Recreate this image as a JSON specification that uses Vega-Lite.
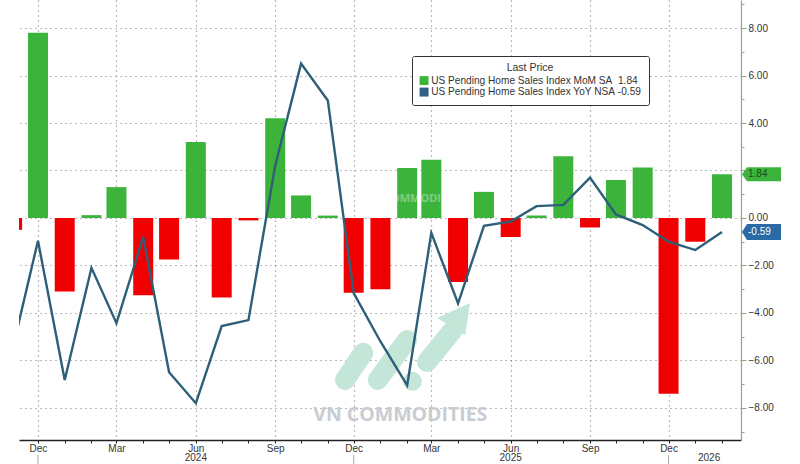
{
"$schema":"https://vega.github.io/schema/vega-lite/v6.json",
"width":722,"height":440,"autosize":"none",
"padding":{"left":19,"top":0,"right":59,"bottom":24},
"background":"white",
"config":{"view":{"stroke":null},"font":"Liberation Sans"},
"datasets":{
"mom":[
{"date":"2023-11-01","value":-0.5,"series":"Negative"},
{"date":"2023-12-01","value":7.8,"series":"MoM"},
{"date":"2024-01-01","value":-3.1,"series":"Negative"},
{"date":"2024-02-01","value":0.12,"series":"MoM"},
{"date":"2024-03-01","value":1.3,"series":"MoM"},
{"date":"2024-04-01","value":-3.25,"series":"Negative"},
{"date":"2024-05-01","value":-1.75,"series":"Negative"},
{"date":"2024-06-01","value":3.2,"series":"MoM"},
{"date":"2024-07-01","value":-3.35,"series":"Negative"},
{"date":"2024-08-01","value":-0.1,"series":"Negative"},
{"date":"2024-09-01","value":4.2,"series":"MoM"},
{"date":"2024-10-01","value":0.95,"series":"MoM"},
{"date":"2024-11-01","value":0.1,"series":"MoM"},
{"date":"2024-12-01","value":-3.15,"series":"Negative"},
{"date":"2025-01-01","value":-3.0,"series":"Negative"},
{"date":"2025-02-01","value":2.1,"series":"MoM"},
{"date":"2025-03-01","value":2.45,"series":"MoM"},
{"date":"2025-04-01","value":-2.7,"series":"Negative"},
{"date":"2025-05-01","value":1.1,"series":"MoM"},
{"date":"2025-06-01","value":-0.8,"series":"Negative"},
{"date":"2025-07-01","value":0.1,"series":"MoM"},
{"date":"2025-08-01","value":2.6,"series":"MoM"},
{"date":"2025-09-01","value":-0.4,"series":"Negative"},
{"date":"2025-10-01","value":1.6,"series":"MoM"},
{"date":"2025-11-01","value":2.13,"series":"MoM"},
{"date":"2025-12-01","value":-7.4,"series":"Negative"},
{"date":"2026-01-01","value":-1.0,"series":"Negative"},
{"date":"2026-02-01","value":1.84,"series":"MoM"}
],
"yoy":[
{"date":"2023-11-01","value":-5.6},
{"date":"2023-12-01","value":-0.96},
{"date":"2024-01-01","value":-6.82},
{"date":"2024-02-01","value":-2.1},
{"date":"2024-03-01","value":-4.43},
{"date":"2024-04-01","value":-0.8},
{"date":"2024-05-01","value":-6.5},
{"date":"2024-06-01","value":-7.8},
{"date":"2024-07-01","value":-4.55},
{"date":"2024-08-01","value":-4.3},
{"date":"2024-09-01","value":2.2},
{"date":"2024-10-01","value":6.5},
{"date":"2024-11-01","value":4.95},
{"date":"2024-12-01","value":-3.16},
{"date":"2025-01-01","value":-5.2},
{"date":"2025-02-01","value":-7.05},
{"date":"2025-03-01","value":-0.63},
{"date":"2025-04-01","value":-3.6},
{"date":"2025-05-01","value":-0.33},
{"date":"2025-06-01","value":-0.15},
{"date":"2025-07-01","value":0.5},
{"date":"2025-08-01","value":0.55},
{"date":"2025-09-01","value":1.7},
{"date":"2025-10-01","value":0.15},
{"date":"2025-11-01","value":-0.3},
{"date":"2025-12-01","value":-1.0},
{"date":"2026-01-01","value":-1.35},
{"date":"2026-02-01","value":-0.59}
]
},
"encoding":{
"x":{"field":"date","type":"temporal","title":null,
"scale":{"type":"utc","domain":["2023-11-09","2026-02-23"],"padding":0},
"axis":{"values":["2023-12-01","2024-01-01","2024-02-01","2024-03-01","2024-04-01","2024-05-01","2024-06-01","2024-07-01","2024-08-01","2024-09-01","2024-10-01","2024-11-01","2024-12-01","2025-01-01","2025-02-01","2025-03-01","2025-04-01","2025-05-01","2025-06-01","2025-07-01","2025-08-01","2025-09-01","2025-10-01","2025-11-01","2025-12-01","2026-01-01","2026-02-01"],
"labelExpr":"utcmonth(datum.value)%3==2 ? utcFormat(datum.value,'%b') : ''",
"labelFontSize":10,"labelColor":"#333333","labelPadding":0,"labelOverlap":false,"labelFlush":false,
"tickSize":3,"tickColor":"#222222","domainColor":"#222222","domainWidth":1.5,
"grid":true,"gridDash":[1,4],"gridColor":"#777777","gridWidth":1.2,
"gridOpacity":{"condition":{"test":"utcmonth(datum.value)%3==2","value":1},"value":0}}},
"y":{"field":"value","type":"quantitative","title":null,
"scale":{"domain":[-9.35,9.18],"nice":false,"zero":false,"padding":0},
"axis":{"orient":"right","values":[-9,-8,-7,-6,-5,-4,-3,-2,-1,0,1,2,3,4,5,6,7,8,9],
"labelExpr":"datum.value%2==0 && datum.value!=2 ? format(datum.value,'.2f') : ''",
"labelFontSize":10,"labelColor":"#333333","labelPadding":2,"labelOverlap":false,"labelFlush":false,
"domainColor":"#8aa88a","domainWidth":1.2,"tickColor":"#8aa88a",
"tickSize":{"condition":{"test":"datum.value%2==0","value":5},"value":3},
"grid":true,"gridDash":[1,4],"gridColor":"#777777","gridWidth":1.2,
"gridOpacity":{"condition":{"test":"datum.value%2==0","value":1},"value":0}}}
},
"layer":[
{"data":{"values":[{"date":"2025-01-24","value":-8.29,"label":"VN COMMODITIES"}]},
 "mark":{"type":"text","font":"Open Sans","fontWeight":"bold","fontSize":19.5,"color":"#c9ccd2"},
 "encoding":{"text":{"field":"label"}}},
{"data":{"values":[{"date":"2024-11-21","value":-6.82,"part":"a"},{"date":"2024-12-12","value":-5.68,"part":"a"},
 {"date":"2024-12-29","value":-6.82,"part":"b"},{"date":"2025-02-01","value":-5.14,"part":"b"},
 {"date":"2025-02-24","value":-6.06,"part":"c"},{"date":"2025-03-26","value":-4.72,"part":"c"}]},
 "mark":{"type":"line","strokeWidth":20,"strokeCap":"round","color":"#c3e6d8","clip":true},
 "encoding":{"detail":{"field":"part"}}},
{"data":{"values":[{"date":"2025-02-07","value":-6.88}]},
 "mark":{"type":"point","filled":true,"shape":"circle","size":360,"color":"#c3e6d8","opacity":1}},
{"data":{"values":[{"date":"2025-04-15","value":-3.58}]},
 "mark":{"type":"point","filled":true,"shape":"M0 0L-1.65 .75L-.25 1.6Z","size":1600,"color":"#c3e6d8","opacity":1}},
{"data":{"name":"mom"},
 "mark":{"type":"bar","size":20,"clip":true},
 "encoding":{"color":{"field":"series","type":"nominal",
  "scale":{"domain":["MoM","YoY","Negative"],"range":["#3cb43c","#2e5f85","#f00000"]},
  "legend":{"values":["MoM","YoY"],
   "labelExpr":"datum.label=='MoM' ? 'US Pending Home Sales Index MoM SA\u00a0\u00a01.84' : 'US Pending Home Sales Index YoY NSA\u00a0-0.59'",
   "title":"Last Price","orient":"none","legendX":393,"legendY":56,
   "titleAnchor":"middle","titleFontWeight":"normal","titleFontSize":10.5,"titleColor":"#333333","titlePadding":2,
   "labelFontSize":10.15,"labelColor":"#333333","labelLimit":300,"labelOffset":2,
   "symbolType":"square","symbolSize":80,"symbolStrokeWidth":0,"rowPadding":0.5,
   "fillColor":"white","strokeColor":"#333333","cornerRadius":2,"padding":7}}}},
{"data":{"values":[{"date":"2025-02-20","value":0.82,"label":"COMMODITIES"}]},
 "mark":{"type":"text","font":"Open Sans","fontWeight":"bold","fontSize":11,"color":"white","opacity":0.35}, 
 "encoding":{"text":{"field":"label"}}},
{"data":{"name":"yoy"},
 "mark":{"type":"line","strokeWidth":2.4,"clip":true,"color":"#2e5f78"}},
{"data":{"values":[{"date":"2023-12-01","value":-9.98,"value2":-10.5},{"date":"2024-12-01","value":-9.98,"value2":-10.5},{"date":"2025-12-01","value":-9.98,"value2":-10.5}]},
 "mark":{"type":"rule","color":"#aaaaaa","strokeWidth":1,"clip":false},
 "encoding":{"y2":{"field":"value2"}}},
{"data":{"values":[{"date":"2024-06-01","value":-10.12,"label":"2024"},{"date":"2025-06-01","value":-10.12,"label":"2025"},{"date":"2026-01-17","value":-10.12,"label":"2026"}]},
 "mark":{"type":"text","fontSize":10,"color":"#333333","clip":false},
 "encoding":{"text":{"field":"label"}}},
{"data":{"values":[{"date":"2026-02-23","value":1.84}]},
 "mark":{"type":"point","filled":true,"opacity":1,"clip":false,"size":1600,"shape":"M.05 0L.3 -.35L2 -.35L2 .35L.3 .35Z","color":"#3cb43c"}},
{"data":{"values":[{"date":"2026-02-23","value":-0.59}]},
 "mark":{"type":"point","filled":true,"opacity":1,"clip":false,"size":1600,"shape":"M.05 0L.3 -.4L2 -.4L2 .4L.3 .4Z","color":"#2a6aa5"}},
{"data":{"values":[{"date":"2026-02-23","value":1.84,"label":"1.84"}]},
 "mark":{"type":"text","align":"left","dx":7,"fontSize":10,"color":"#1c4a1c","clip":false},
 "encoding":{"text":{"field":"label"}}},
{"data":{"values":[{"date":"2026-02-23","value":-0.59,"label":"-0.59"}]},
 "mark":{"type":"text","align":"left","dx":7,"fontSize":10,"color":"white","clip":false},
 "encoding":{"text":{"field":"label"}}}
]
}
